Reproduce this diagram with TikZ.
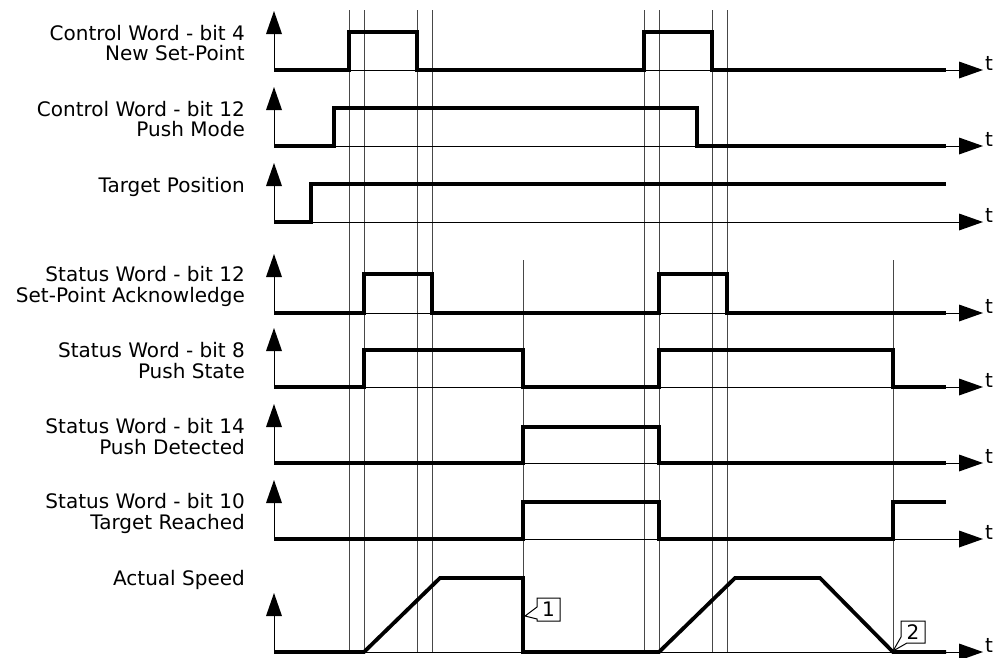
\documentclass[tikz,border=0pt]{standalone}
\usepackage{fontspec}
\setmainfont{DejaVu Sans}
\begin{document}
\begin{tikzpicture}[x=1pt,y=-1pt,
  grid/.style={draw=black!72,line width=1pt},
  axis/.style={draw=black,line width=1pt},
  sig/.style={draw=black,line width=3.8pt,line join=miter,line cap=butt},
  lbl/.style={anchor=base east,inner sep=0pt,font=\fontsize{20}{21}\selectfont},
  tlbl/.style={anchor=base west,inner sep=0pt,font=\fontsize{20}{21}\selectfont},
  callout/.style={draw=black,line width=1pt,fill=white},
  cnum/.style={inner sep=0pt,font=\fontsize{20}{21}\selectfont}]
\useasboundingbox (0,0) rectangle (993,657);
% vertical reference lines
\foreach \x in {349,364,417,432,644,659,712,727}
  \draw[grid] (\x,10) -- (\x,652);
\foreach \x in {523,893}
  \draw[grid] (\x,260) -- (\x,652);
% axes
\foreach \b [count=\i] in {70,146,222,313,387,463,539,652} {
  \draw[axis] (274,\b) -- (960,\b);
  \fill (959,\b-8.5) -- (983,\b) -- (959,\b+8.5) -- cycle;
  \draw[axis] (274,\b) -- (274,\b-37);
  \fill (266,\b-36) -- (274,\b-59) -- (282,\b-36) -- cycle;
  \node[tlbl] (t\i) at (985,\b) {t};
}
% signals
\draw[sig] (274,70) -- (349,70) -- (349,32) -- (417,32) -- (417,70) -- (644,70) -- (644,32) -- (712,32) -- (712,70) -- (946,70);
\draw[sig] (274,146) -- (334,146) -- (334,108) -- (697,108) -- (697,146) -- (946,146);
\draw[sig] (274,222) -- (311,222) -- (311,184) -- (946,184);
\draw[sig] (274,313) -- (364,313) -- (364,274) -- (432,274) -- (432,313) -- (659,313) -- (659,274) -- (727,274) -- (727,313) -- (946,313);
\draw[sig] (274,387) -- (364,387) -- (364,350) -- (523,350) -- (523,387) -- (659,387) -- (659,350) -- (893,350) -- (893,387) -- (946,387);
\draw[sig] (274,463) -- (523,463) -- (523,427) -- (659,427) -- (659,463) -- (946,463);
\draw[sig] (274,539) -- (523,539) -- (523,502) -- (659,502) -- (659,539) -- (893,539) -- (893,502) -- (946,502);
\draw[sig] (274,652) -- (364,652) -- (440,578) -- (523,578) -- (523,652) -- (659,652) -- (735,578) -- (820,578) -- (893,652) -- (946,652);
% labels
\node[lbl] (l1a) at (245,40) {Control Word - bit 4};
\node[lbl] (l1b) at (245,60) {New Set-Point};
\node[lbl] (l2a) at (245,116) {Control Word - bit 12};
\node[lbl] (l2b) at (245,136) {Push Mode};
\node[lbl] (l3a) at (245,192) {Target Position};
\node[lbl] (l4a) at (245,281) {Status Word - bit 12};
\node[lbl] (l4b) at (245,302) {Set-Point Acknowledge};
\node[lbl] (l5a) at (245,357) {Status Word - bit 8};
\node[lbl] (l5b) at (245,378) {Push State};
\node[lbl] (l6a) at (245,433) {Status Word - bit 14};
\node[lbl] (l6b) at (245,454) {Push Detected};
\node[lbl] (l7a) at (245,508) {Status Word - bit 10};
\node[lbl] (l7b) at (245,529) {Target Reached};
\node[lbl] (l8a) at (245,585) {Actual Speed};
% callouts
\draw[callout] (560,598) -- (537,598) -- (537,607) -- (525,616) -- (537,619) -- (537,621) -- (560,621) -- cycle;
\node[cnum] (c1) at (548.5,609.5) {1};
\draw[callout] (901,621) -- (925,621) -- (925,643) -- (907,643) -- (893,651) -- (901,637) -- cycle;
\node[cnum] (c2) at (913,632) {2};
\end{tikzpicture}
\end{document}
